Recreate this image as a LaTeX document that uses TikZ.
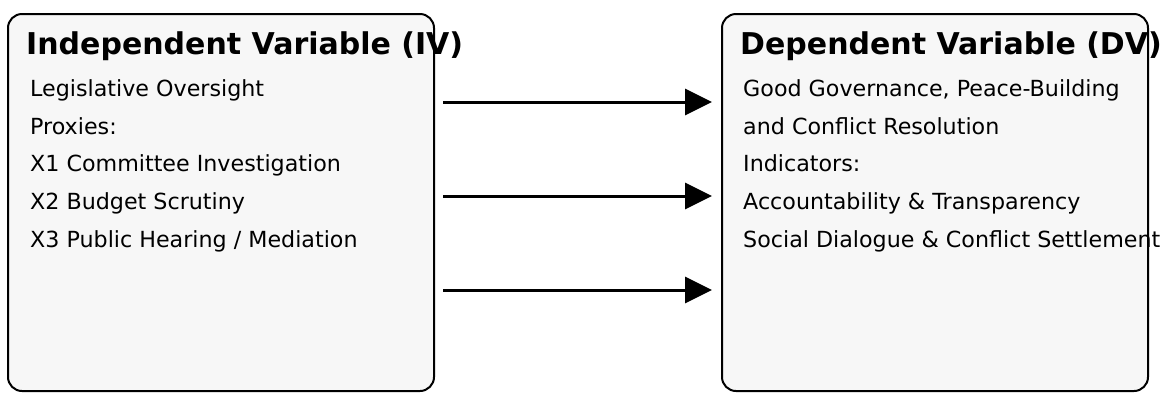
\documentclass[tikz,border=0pt]{standalone}
\usepackage{fontspec}
\setmainfont{DejaVu Sans}
\usetikzlibrary{arrows.meta}
\definecolor{boxgray}{HTML}{F7F7F7}
\begin{document}
\begin{tikzpicture}[x=1pt,y=-1pt,
  varbox/.style={draw=black, line width=2pt, fill=boxgray, rounded corners=14pt, anchor=north west, inner sep=0pt, outer sep=0pt, minimum width=426pt, minimum height=377pt},
  vtitle/.style={anchor=base west, inner sep=0pt, font=\fontsize{30}{36}\selectfont\bfseries},
  vbody/.style={anchor=base west, inner sep=0pt, font=\fontsize{22.2}{26}\selectfont},
  link/.style={line width=3pt, -{Triangle[length=27pt,width=26pt]}}]
\useasboundingbox[fill=white] (0,0) rectangle (1167,392);
\node[varbox] (iv) at (8,14) {};
\node[varbox] (dv) at (722,14) {};
% left texts
\node[vtitle] (ivt) at (26,54) {Independent Variable (IV)};
\node[vbody] (iv1) at (30,96.5) {Legislative Oversight};
\node[vbody] (iv2) at (30,134.2) {Proxies:};
\node[vbody] (iv3) at (30,171.9) {X1 Committee Investigation};
\node[vbody] (iv4) at (30,209.6) {X2 Budget Scrutiny};
\node[vbody] (iv5) at (30,247.3) {X3 Public Hearing / Mediation};
% right texts
\node[vtitle] (dvt) at (740,54) {Dependent Variable (DV)};
\node[vbody] (dv1) at (743,96.5) {Good Governance, Peace-Building};
\node[vbody] (dv2) at (743,134.2) {and Conflict Resolution};
\node[vbody] (dv3) at (743,171.9) {Indicators:};
\node[vbody] (dv4) at (743,209.6) {Accountability \& Transparency};
\node[vbody] (dv5) at (743,247.3) {Social Dialogue \& Conflict Settlement};
% arrows
\coordinate (s1) at (443,102); \coordinate (e1) at (712,102);
\coordinate (s2) at (443,196); \coordinate (e2) at (712,196);
\coordinate (s3) at (443,290); \coordinate (e3) at (712,290);
\draw[link] (s1) -- (e1);
\draw[link] (s2) -- (e2);
\draw[link] (s3) -- (e3);
\end{tikzpicture}
\end{document}
